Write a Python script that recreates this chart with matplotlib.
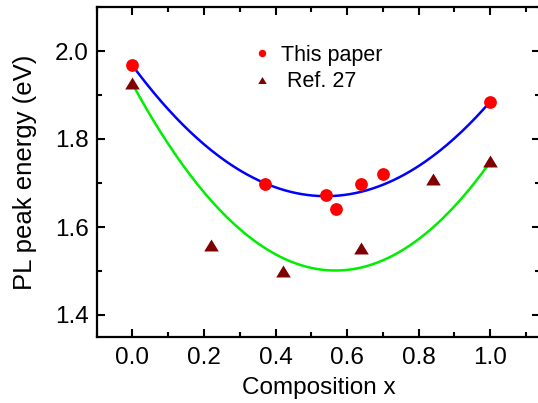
import numpy as np
import matplotlib
matplotlib.use("Agg")
import matplotlib.pyplot as plt
from matplotlib.ticker import MultipleLocator

plt.rcParams['font.family'] = ['Liberation Sans', 'DejaVu Sans']

# PL peak energies measured in this work
x_this = [0.0, 0.37, 0.54, 0.57, 0.64, 0.70, 1.0]
e_this = [1.968, 1.697, 1.672, 1.641, 1.697, 1.721, 1.885]

# values reported in Ref. 27
x_ref = [0.0, 0.22, 0.42, 0.64, 0.84, 1.0]
e_ref = [1.928, 1.560, 1.500, 1.553, 1.708, 1.750]

# bowing-model parameters: [E(x=0), E(x=1), bowing b]
bow_this = [1.967, 1.885, 1.017]
bow_ref = [1.925, 1.748, 1.318]

def bowing(x, e0, e1, b):
    return e0 * (1 - x) + e1 * x - b * x * (1 - x)

W, H = 538, 403
fig = plt.figure(figsize=(W / 100, H / 100), dpi=100)
ax_l, ax_r, ax_t, ax_b = 96.7, 540.0, 7.0, 337.0
ax = fig.add_axes([ax_l / W, 1 - ax_b / H, (ax_r - ax_l) / W, (ax_b - ax_t) / H])

xs = np.linspace(0, 1, 200)
ax.plot(xs, bowing(xs, *bow_this), color='#0000ff', lw=1.8, zorder=2)
ax.plot(xs, bowing(xs, *bow_ref), color='#00ee00', lw=1.8, zorder=2)

tri = [(0, 0.82), (-1, -0.82), (1, -0.82), (0, 0.82)]
ax.plot(x_this, e_this, 'o', color='#ff0000', ms=9.2, mec='none',
        label='This paper', zorder=3)
ax.plot(x_ref, e_ref, ls='none', marker=tri, color='#7f0000', ms=10.5,
        mec='none', label=' Ref. 27', zorder=3)

ax.set_xlim(-0.1, 1.139)
ax.set_ylim(1.35, 2.1)
ax.xaxis.set_major_locator(MultipleLocator(0.2))
ax.xaxis.set_minor_locator(MultipleLocator(0.1))
ax.yaxis.set_major_locator(MultipleLocator(0.2))
ax.yaxis.set_minor_locator(MultipleLocator(0.1))
ax.xaxis.set_major_formatter(lambda v, p: f"{v:.1f}")
ax.yaxis.set_major_formatter(lambda v, p: f"{v:.1f}")

ax.tick_params(which='both', direction='in', top=True, right=True,
               width=1.5, labelsize=17.5)
ax.tick_params(which='major', length=6)
ax.tick_params(which='minor', length=3.5)
ax.tick_params(axis='x', pad=7)
ax.tick_params(axis='y', pad=5.5)
for s in ax.spines.values():
    s.set_linewidth(1.6)

ax.set_xlabel('Composition x', fontsize=17.5, labelpad=6)
ax.set_ylabel('PL peak energy (eV)', fontsize=18.5, labelpad=13)

fs_px = 15.5 * 100 / 72
hl = 1.0
anchor_x = 262 - hl * fs_px / 2
ax.legend(loc='upper left', frameon=False, fontsize=15.5, markerscale=0.58,
          handlelength=hl, handletextpad=0.4, borderpad=0, borderaxespad=0,
          labelspacing=0.25,
          bbox_to_anchor=(anchor_x / W, 1 - 45 / H),
          bbox_transform=fig.transFigure)

fig.savefig('out.png', dpi=100)
